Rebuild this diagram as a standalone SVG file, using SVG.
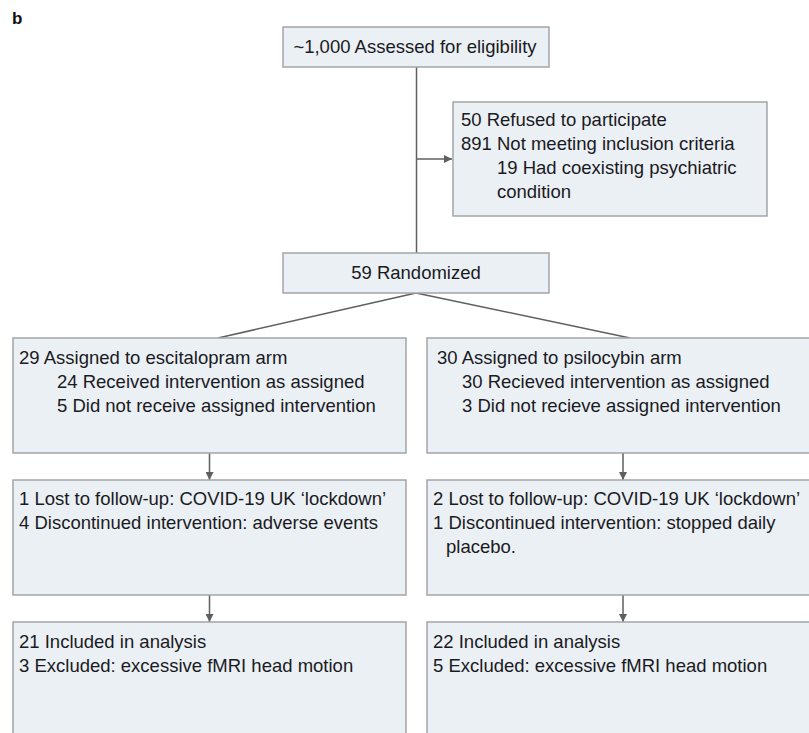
<svg xmlns="http://www.w3.org/2000/svg" width="809" height="733" viewBox="0 0 809 733">
<style>
.box{fill:#ebf0f5;stroke:#a2a5a8;stroke-width:1.5}
.t{font-family:"Liberation Sans",Arial,sans-serif;font-size:18.5px;fill:#1a1a22}
.c{stroke:#5f5f5f;stroke-width:1.5;fill:none}
</style>
<defs>
<marker id="ah" viewBox="0 0 10 10" refX="10" refY="5" markerWidth="8" markerHeight="8" markerUnits="userSpaceOnUse" orient="auto">
<path d="M0,0 L10,5 L0,10 z" fill="#5f5f5f"/>
</marker>
</defs>
<rect width="809" height="733" fill="#fff"/>
<text x="12" y="24" style="font-family:'Liberation Sans',Arial,sans-serif;font-size:17px;font-weight:bold;fill:#111">b</text>
<g id="connectors">
<line class="c" x1="416.5" y1="67" x2="416.5" y2="253"/>
<line class="c" x1="416.5" y1="159" x2="452" y2="159" marker-end="url(#ah)"/>
<line class="c" x1="416" y1="293" x2="218" y2="338"/>
<line class="c" x1="416" y1="293" x2="630" y2="338"/>
<line class="c" x1="209.5" y1="453" x2="209.5" y2="480" marker-end="url(#ah)"/>
<line class="c" x1="623" y1="453" x2="623" y2="480" marker-end="url(#ah)"/>
<line class="c" x1="209.5" y1="595" x2="209.5" y2="622" marker-end="url(#ah)"/>
<line class="c" x1="623" y1="595" x2="623" y2="622" marker-end="url(#ah)"/>
</g>
<g id="assessed">
<rect class="box" x="283" y="27" width="266" height="40"/>
<text class="t" x="415" y="53" text-anchor="middle">~1,000 Assessed for eligibility</text>
</g>
<g id="excluded">
<rect class="box" x="453" y="102" width="314" height="114"/>
<text class="t" x="461" y="126">50 Refused to participate</text>
<text class="t" x="461" y="150">891 Not meeting inclusion criteria</text>
<text class="t" x="497" y="174">19 Had coexisting psychiatric</text>
<text class="t" x="497" y="198">condition</text>
</g>
<g id="randomized">
<rect class="box" x="283" y="253" width="266" height="40"/>
<text class="t" x="416" y="279" text-anchor="middle">59 Randomized</text>
</g>
<g id="escitalopram-arm">
<rect class="box" x="13" y="338" width="393" height="115"/>
<text class="t" x="19" y="364">29 Assigned to escitalopram arm</text>
<text class="t" x="57" y="388">24 Received intervention as assigned</text>
<text class="t" x="57" y="412">5 Did not receive assigned intervention</text>
</g>
<g id="psilocybin-arm">
<rect class="box" x="427" y="338" width="386" height="115"/>
<text class="t" x="437" y="364">30 Assigned to psilocybin arm</text>
<text class="t" x="462" y="388">30 Recieved intervention as assigned</text>
<text class="t" x="462" y="412">3 Did not recieve assigned intervention</text>
</g>
<g id="escitalopram-followup">
<rect class="box" x="13" y="480" width="393" height="115"/>
<text class="t" x="19" y="505">1 Lost to follow-up: COVID-19 UK ‘lockdown’</text>
<text class="t" x="19" y="529">4 Discontinued intervention: adverse events</text>
</g>
<g id="psilocybin-followup">
<rect class="box" x="427" y="480" width="386" height="115"/>
<text class="t" x="433" y="505">2 Lost to follow-up: COVID-19 UK ‘lockdown’</text>
<text class="t" x="433" y="529">1 Discontinued intervention: stopped daily</text>
<text class="t" x="446" y="553">placebo.</text>
</g>
<g id="escitalopram-analysis">
<rect class="box" x="13" y="622" width="393" height="120"/>
<text class="t" x="19" y="648">21 Included in analysis</text>
<text class="t" x="19" y="672">3 Excluded: excessive fMRI head motion</text>
</g>
<g id="psilocybin-analysis">
<rect class="box" x="427" y="622" width="386" height="120"/>
<text class="t" x="433" y="648">22 Included in analysis</text>
<text class="t" x="433" y="672">5 Excluded: excessive fMRI head motion</text>
</g>
</svg>
